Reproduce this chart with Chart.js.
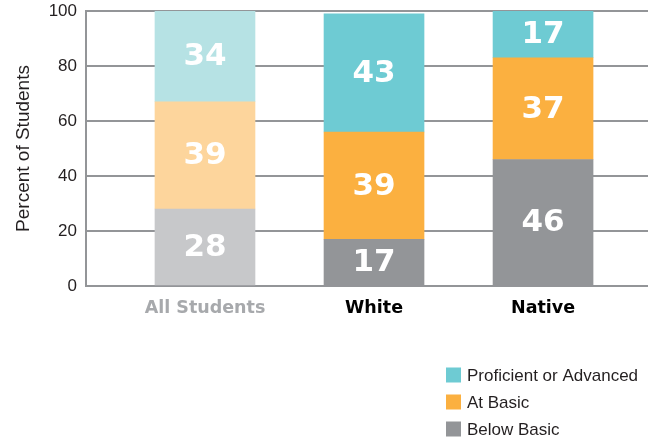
<!DOCTYPE html>
<html><head><meta charset="utf-8">
<script src="https://cdn.jsdelivr.net/npm/chart.js@4/dist/chart.umd.min.js"></script>
<style>html,body{margin:0;padding:0;background:#fff}#wrap{width:650px;height:437px;position:relative}</style>
</head><body><div id="wrap"><canvas id="c" width="650" height="437"></canvas></div>
<script>
const categories = ['All Students', 'White', 'Native'];
const belowBasic = [28, 17, 46];
const atBasic = [39, 39, 37];
const proficient = [34, 43, 17];
const yTicks = [0, 20, 40, 60, 80, 100];
const seriesNames = ['Below Basic', 'At Basic', 'Proficient or Advanced'];

const darkColors = ['#939598', '#fbb040', '#6ecbd3'];
const lightColors = ['#c7c8ca', '#fdd59c', '#b6e2e4'];
const seriesValues = [belowBasic, atBasic, proficient];

const datasets = seriesNames.map((name, s) => ({
  label: name,
  data: categories.map((c, i) => ({ x: i, y: seriesValues[s][i] })),
  backgroundColor: categories.map((c, i) => i === 0 ? lightColors[s] : darkColors[s]),
  borderWidth: 0,
  barThickness: 100
}));

const valueLabels = {
  id: 'valueLabels',
  afterDatasetsDraw(chart) {
    const ctx = chart.ctx, area = chart.chartArea;
    ctx.save();
    ctx.font = 'bold 31px "DejaVu Sans", sans-serif';
    ctx.fillStyle = '#ffffff';
    ctx.textAlign = 'center';
    ctx.textBaseline = 'middle';
    chart.data.datasets.forEach((ds, di) => {
      const meta = chart.getDatasetMeta(di);
      meta.data.forEach((el, i) => {
        const top = Math.max(Math.min(el.y, el.base), area.top);
        const bot = Math.min(Math.max(el.y, el.base), area.bottom);
        ctx.fillText(String(seriesValues[di][i]), el.x, (top + bot) / 2 + 1);
      });
    });
    ctx.restore();
  }
};

const boxLegend = {
  id: 'boxLegend',
  afterDraw(chart) {
    const ctx = chart.ctx;
    ctx.save();
    ctx.font = '17px "Liberation Sans", Arial, sans-serif';
    ctx.textBaseline = 'middle';
    ctx.textAlign = 'left';
    const order = [2, 1, 0];
    order.forEach((s, r) => {
      const cy = 375 + r * 27;
      ctx.fillStyle = darkColors[s];
      ctx.fillRect(446, cy - 7.5, 15, 15);
      ctx.fillStyle = '#231f20';
      ctx.fillText(seriesNames[s], 467, cy + 1);
    });
    ctx.restore();
  }
};

new Chart(document.getElementById('c'), {
  type: 'bar',
  data: { datasets },
  options: {
    responsive: false,
    devicePixelRatio: 1,
    animation: false,
    layout: { padding: { top: 11, right: 2, left: 0, bottom: 0 } },
    plugins: { legend: { display: false }, tooltip: { enabled: false } },
    scales: {
      x: {
        type: 'linear',
        stacked: true,
        offset: false,
        min: -0.704,
        max: 2.621,
        grid: { display: false, offset: false },
        border: { display: false },
        afterBuildTicks: (s) => { s.ticks = categories.map((c, i) => ({ value: i })); },
        afterFit: (s) => { s.height = 151; s.paddingLeft = 0; s.paddingRight = 0; },
        ticks: {
          autoSkip: false,
          maxRotation: 0,
          padding: 4,
          font: { family: '"DejaVu Sans", sans-serif', size: 17.5, weight: 'bold' },
          color: (c) => c.index === 0 ? '#a7a9ac' : '#000000',
          callback: (v) => categories[v] !== undefined ? categories[v] : ''
        }
      },
      y: {
        stacked: true,
        min: 0,
        max: 100,
        afterBuildTicks: (s) => { s.ticks = yTicks.map(v => ({ value: v })); },
        afterFit: (s) => { s.width = 86; s.paddingTop = 0; s.paddingBottom = 0; },
        grid: { color: '#939598', lineWidth: 2, drawTicks: false },
        border: { color: '#939598', width: 2 },
        ticks: {
          padding: 9,
          font: { family: '"Liberation Sans", Arial, sans-serif', size: 17 },
          color: '#231f20'
        },
        title: {
          display: true,
          text: 'Percent of Students',
          font: { family: '"Liberation Sans", Arial, sans-serif', size: 19 },
          color: '#231f20',
          padding: { top: 12, bottom: 0 }
        }
      }
    }
  },
  plugins: [valueLabels, boxLegend]
});
</script></body></html>
